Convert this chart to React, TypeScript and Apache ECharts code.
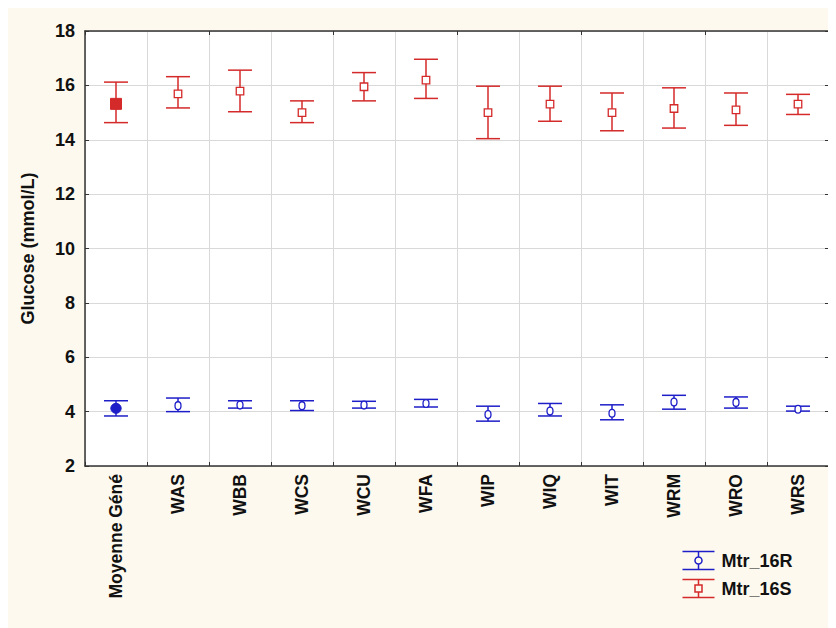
import React, { useEffect, useRef } from "react";
import * as echarts from "echarts";

const categories = ["Moyenne Géné", "WAS", "WBB", "WCS", "WCU", "WFA", "WIP", "WIQ", "WIT", "WRM", "WRO", "WRS"];

// Mtr_16R (blue, circles)
const rMean = [4.12, 4.22, 4.24, 4.22, 4.24, 4.3, 3.89, 4.02, 3.94, 4.35, 4.34, 4.09];
const rLow = [3.84, 4.0, 4.13, 4.04, 4.13, 4.17, 3.65, 3.84, 3.7, 4.09, 4.13, 4.02];
const rHigh = [4.4, 4.5, 4.4, 4.4, 4.38, 4.45, 4.2, 4.3, 4.25, 4.6, 4.54, 4.2];

// Mtr_16S (red, squares)
const sMean = [15.32, 15.69, 15.79, 15.0, 15.95, 16.19, 15.0, 15.31, 15.0, 15.15, 15.1, 15.31];
const sLow = [14.63, 15.17, 15.03, 14.63, 15.43, 15.52, 14.04, 14.68, 14.33, 14.43, 14.53, 14.93];
const sHigh = [16.12, 16.32, 16.56, 15.43, 16.47, 16.96, 15.97, 15.97, 15.72, 15.91, 15.72, 15.67];

const yTicks = { min: 2, max: 18, interval: 2 };

const BLUE = "#1e1ec8";
const RED = "#d42a2a";
const FONT = "'Liberation Sans', Arial, sans-serif";

function makeRender(color: string, shape: "circle" | "square") {
  return (params: any, api: any) => {
    const idx = api.value(0);
    const pm = api.coord([idx, api.value(1)]);
    const pl = api.coord([idx, api.value(2)]);
    const ph = api.coord([idx, api.value(3)]);
    const half = 12;
    const lw = 1.5;
    const first = params.dataIndex === 0;
    const children: any[] = [
      { type: "line", shape: { x1: pm[0], y1: ph[1], x2: pm[0], y2: pl[1] }, style: { stroke: color, lineWidth: lw } },
      { type: "line", shape: { x1: pm[0] - half, y1: ph[1], x2: pm[0] + half, y2: ph[1] }, style: { stroke: color, lineWidth: lw } },
      { type: "line", shape: { x1: pm[0] - half, y1: pl[1], x2: pm[0] + half, y2: pl[1] }, style: { stroke: color, lineWidth: lw } },
    ];
    if (shape === "square") {
      const s = first ? 11 : 7.5;
      children.push({
        type: "rect",
        shape: { x: pm[0] - s / 2, y: pm[1] - s / 2, width: s, height: s },
        style: { fill: first ? color : "#ffffff", stroke: color, lineWidth: first ? 1 : 1.3 },
      });
    } else {
      children.push({
        type: "ellipse",
        shape: { cx: pm[0], cy: pm[1], rx: first ? 5.2 : 3, ry: first ? 5 : 3.9 },
        style: { fill: first ? color : "#ffffff", stroke: color, lineWidth: first ? 1 : 1.3 },
      });
    }
    return { type: "group", children };
  };
}

const iconR = "path://M0 0 H32 M16 0 V5.5 M16 12.5 V18 M0 18 H32 M12.5 9 A3.5 3.5 0 1 1 19.5 9 A3.5 3.5 0 1 1 12.5 9 Z";
const iconS = "path://M0 0 H32 M16 0 V5.5 M16 12.5 V18 M0 18 H32 M12.5 5.5 H19.5 V12.5 H12.5 Z";

export default function App() {
  const ref = useRef<HTMLDivElement>(null);
  useEffect(() => {
    if (!ref.current) return;
    const chart = echarts.init(ref.current, undefined, { renderer: "svg" });
    const axisLine = { show: true, lineStyle: { color: "#333", width: 1.5 } };
    const option: any = {
      animation: false,
      backgroundColor: "#fdf9ee",
      textStyle: { fontFamily: FONT },
      grid: { left: 77, top: 23, right: 7, bottom: 162, show: true, backgroundColor: "#ffffff", borderWidth: 0 },
      legend: {
        orient: "vertical",
        left: 672,
        top: 541,
        padding: 0,
        itemWidth: 32,
        itemHeight: 18,
        itemGap: 5,
        textStyle: { fontSize: 18, fontWeight: "bold", color: "#111", fontFamily: FONT, padding: [0, 0, 0, 2] },
        data: [
          { name: "Mtr_16R", icon: iconR, itemStyle: { color: "none", borderColor: BLUE, borderWidth: 1.5 } },
          { name: "Mtr_16S", icon: iconS, itemStyle: { color: "none", borderColor: RED, borderWidth: 1.5 } },
        ],
      },
      xAxis: [
        {
          type: "category",
          data: categories,
          position: "bottom",
          boundaryGap: true,
          axisLine,
          axisTick: { show: true, inside: true, length: 4, lineStyle: { color: "#333" } },
          axisLabel: { rotate: 90, margin: 8, fontSize: 17.5, fontWeight: "bold", color: "#111", fontFamily: FONT, interval: 0 },
          splitLine: { show: true, interval: 0, lineStyle: { color: "#d9d9d9", width: 1 } },
        },
        {
          type: "category",
          data: categories,
          position: "top",
          boundaryGap: true,
          axisLine,
          axisTick: { show: true, inside: true, length: 4, lineStyle: { color: "#333" } },
          axisLabel: { show: false },
          splitLine: { show: false },
        },
      ],
      yAxis: [
        {
          type: "value",
          min: yTicks.min,
          max: yTicks.max,
          interval: yTicks.interval,
          position: "left",
          name: "Glucose (mmol/L)",
          nameLocation: "middle",
          nameGap: 48,
          nameTextStyle: { fontSize: 18, fontWeight: "bold", color: "#111", fontFamily: FONT },
          axisLine,
          axisTick: { show: true, inside: true, length: 4, lineStyle: { color: "#333" } },
          axisLabel: { margin: 10, fontSize: 18, fontWeight: "bold", color: "#111", fontFamily: FONT },
          splitLine: { show: true, lineStyle: { color: "#d9d9d9", width: 1 } },
        },
        {
          type: "value",
          min: yTicks.min,
          max: yTicks.max,
          interval: yTicks.interval,
          position: "right",
          axisLine,
          axisTick: { show: true, inside: true, length: 4, lineStyle: { color: "#333" } },
          axisLabel: { show: false },
          splitLine: { show: false },
        },
      ],
      series: [
        {
          name: "Mtr_16R",
          type: "custom",
          color: BLUE,
          xAxisIndex: 0,
          yAxisIndex: 0,
          encode: { x: 0, y: 1 },
          renderItem: makeRender(BLUE, "circle"),
          data: categories.map((_, i) => [i, rMean[i], rLow[i], rHigh[i]]),
          z: 3,
        },
        {
          name: "Mtr_16S",
          type: "custom",
          color: RED,
          xAxisIndex: 0,
          yAxisIndex: 0,
          encode: { x: 0, y: 1 },
          renderItem: makeRender(RED, "square"),
          data: categories.map((_, i) => [i, sMean[i], sLow[i], sHigh[i]]),
          z: 3,
        },
      ],
    };
    chart.setOption(option);
    return () => chart.dispose();
  }, []);
  return <div ref={ref} style={{ width: 828, height: 620 }} />;
}
